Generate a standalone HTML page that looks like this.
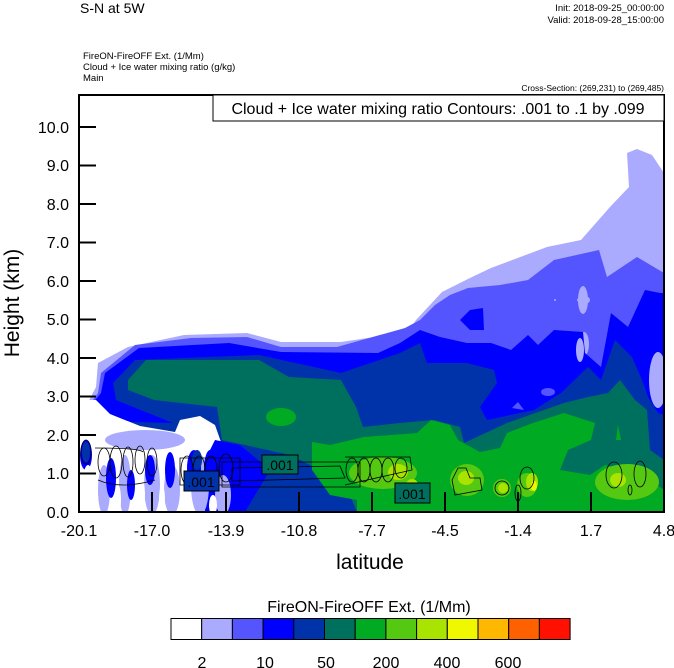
<!DOCTYPE html>
<html><head><meta charset="utf-8"><style>
body{margin:0;background:#fff;}
svg{display:block;font-family:"Liberation Sans",sans-serif;}
</style></head><body>
<svg width="674" height="668" viewBox="0 0 674 668" xmlns="http://www.w3.org/2000/svg">
<rect width="674" height="668" fill="#fff"/>
<text x="80" y="13" font-size="14">S-N at 5W</text>
<text x="664" y="11" font-size="9.5" text-anchor="end">Init: 2018-09-25_00:00:00</text>
<text x="664" y="23" font-size="9.5" text-anchor="end">Valid: 2018-09-28_15:00:00</text>
<text x="83" y="59" font-size="9.5">FireON-FireOFF Ext.   (1/Mm)</text>
<text x="83" y="70" font-size="9.5">Cloud + Ice water mixing ratio   (g/kg)</text>
<text x="83" y="81" font-size="9.5">Main</text>
<text x="664" y="91" font-size="8.5" text-anchor="end">Cross-Section: (269,231) to (269,485)</text>
<defs><clipPath id="c"><rect x="79" y="95" width="585" height="417"/></clipPath></defs>
<g clip-path="url(#c)">
<polygon fill="#aaaaff" points="96,387 98,363 128,347 184,335 247,333 281,342 341,342 408,332 416,320 442,292 472,277 491,268 547,247 581,240 610,207 629,187 627,153 637,149 652,155 664,173 664,512 79,512 79,420"/>
<polygon fill="#5555ff" points="98,393 101,373 135,345 191,338 247,337 281,347 337,347 405,328 420,320 435,305 450,295 468,288 500,285 528,280 554,260 599,250 607,277 637,257 664,273 664,512 79,512 79,420"/>
<g fill="#aaaaff">
<ellipse cx="583" cy="300" rx="5" ry="14"/><ellipse cx="583" cy="300" rx="6" ry="3"/>
<ellipse cx="584" cy="344" rx="5" ry="12"/><ellipse cx="582" cy="300" rx="1" ry="1"/>
<ellipse cx="555" cy="300" rx="1" ry="1"/><ellipse cx="584" cy="300" rx="1" ry="1"/>
<ellipse cx="584" cy="300" rx="1" ry="1"/>
</g>
<ellipse cx="584" cy="300" rx="6" ry="4" fill="#aaaaff"/>
<polygon fill="#0000ff" points="101,393 105,373 139,348 229,343 281,352 378,353 400,343 420,330 440,337 467,343 491,343 511,350 528,335 538,345 554,330 583,332 585,353 601,367 611,313 628,327 645,290 660,293 664,293 664,512 79,512 79,420"/>
<polygon fill="#0000ff" points="460,320 470,310 483,308 484,330 470,330"/>
<ellipse cx="658" cy="380" rx="9" ry="28" fill="#aaaaff"/>
<ellipse cx="580" cy="350" rx="4" ry="12" fill="#aaaaff"/>
<polygon fill="#0033aa" points="116,400 113,383 135,360 259,355 341,373 400,353 420,343 427,363 467,363 494,370 497,383 480,407 487,420 534,410 561,393 588,367 601,380 615,340 632,357 642,380 648,397 658,413 664,415 664,512 79,512 79,425 130,422 173,423"/>
<ellipse cx="548" cy="392" rx="7" ry="4" fill="#5555ff"/>
<polygon fill="#5555ff" points="512,408 518,402 524,410"/>
<polygon fill="#00705e" points="128,390 128,380 146,360 259,360 289,377 341,380 356,407 363,427 400,423 434,420 460,427 464,443 507,423 564,403 588,397 608,393 620,380 635,400 647,410 650,450 664,460 664,512 357,512 350,495 320,470 290,455 245,445 222,440 217,407 154,400"/>
<polygon fill="#00aa22" points="312,442 330,445 364,437 417,433 431,420 450,425 458,440 480,452 500,448 507,433 530,424 564,413 595,423 591,440 568,450 560,470 590,475 605,465 625,470 650,480 664,490 664,512 357,512 357,500 330,495 312,470"/>
<polygon fill="#00aa22" points="616,440 618,425 621,440"/>
<ellipse cx="281" cy="417" rx="15" ry="9" fill="#00aa22"/>
<g fill="#55c811">
<ellipse cx="383" cy="473" rx="34" ry="16"/><ellipse cx="467" cy="480" rx="17" ry="16"/>
<ellipse cx="502" cy="488" rx="9" ry="9"/><ellipse cx="527" cy="485" rx="10" ry="12"/>
<ellipse cx="627" cy="482" rx="32" ry="18"/>
</g>
<g fill="#a8e400">
<ellipse cx="398" cy="472" rx="10" ry="8"/><ellipse cx="412" cy="485" rx="6" ry="6"/>
<ellipse cx="466" cy="478" rx="8" ry="7"/><ellipse cx="532" cy="482" rx="6" ry="9"/>
<ellipse cx="503" cy="488" rx="5" ry="5"/><ellipse cx="618" cy="480" rx="8" ry="7"/>
</g>
<ellipse cx="534" cy="486" rx="3" ry="5" fill="#f0f800"/>
<!-- bottom-left -->
<polygon fill="#fff" points="79,400 96,400 110,414 140,426 175,432 180,420 200,416 215,425 222,445 220,512 79,512"/>
<ellipse cx="145" cy="440" rx="40" ry="10" fill="#aaaaff"/>
<polygon fill="#0000ff" points="215,440 240,445 270,470 245,512 205,512 200,470"/>
<g fill="#aaaaff">
<ellipse cx="104" cy="490" rx="6" ry="25"/><ellipse cx="125" cy="485" rx="6" ry="30"/>
<ellipse cx="152" cy="485" rx="8" ry="30"/><ellipse cx="172" cy="490" rx="8" ry="25"/>
<ellipse cx="200" cy="485" rx="9" ry="30"/><ellipse cx="223" cy="495" rx="8" ry="20"/>
</g>
<g fill="#0000ff">
<ellipse cx="86" cy="455" rx="6" ry="15"/><ellipse cx="111" cy="478" rx="5" ry="20"/>
<ellipse cx="131" cy="485" rx="4" ry="15"/><ellipse cx="150" cy="470" rx="5" ry="15"/>
<ellipse cx="170" cy="470" rx="5" ry="18"/><ellipse cx="194" cy="468" rx="7" ry="18"/>
<ellipse cx="210" cy="470" rx="6" ry="20"/>
</g>
<g fill="#0033aa">
<ellipse cx="86" cy="452" rx="4" ry="10"/><ellipse cx="197" cy="460" rx="5" ry="10"/>
</g>
<g fill="#fff">
<ellipse cx="88" cy="490" rx="6" ry="25"/><ellipse cx="118" cy="500" rx="3" ry="15"/>
<ellipse cx="140" cy="495" rx="5" ry="20"/><ellipse cx="162" cy="500" rx="3" ry="15"/>
<ellipse cx="213" cy="505" rx="4" ry="10"/>
</g>
<!-- contours -->
<g fill="none" stroke="#000" stroke-width="0.8">
<ellipse cx="86" cy="452" rx="5" ry="12"/>
<ellipse cx="104" cy="462" rx="6" ry="14"/><ellipse cx="116" cy="462" rx="6" ry="16"/>
<ellipse cx="128" cy="462" rx="5" ry="15"/><ellipse cx="140" cy="460" rx="5" ry="14"/>
<ellipse cx="152" cy="462" rx="5" ry="14"/>
<path d="M95,448 Q140,448 143,452 M98,480 Q120,490 155,480"/>
<ellipse cx="187" cy="470" rx="6" ry="14"/><ellipse cx="199" cy="470" rx="6" ry="14"/>
<ellipse cx="211" cy="470" rx="6" ry="14"/><ellipse cx="226" cy="468" rx="7" ry="14"/>
<path d="M180,458 L240,458 L240,485 L180,485 Z"/>
<path d="M222,462 L360,462 L360,487 L222,487 Z"/>
<path d="M232,468 L340,466 L345,478 L232,481 Z"/>
<ellipse cx="352" cy="470" rx="6" ry="12"/><ellipse cx="364" cy="470" rx="6" ry="12"/>
<ellipse cx="376" cy="470" rx="6" ry="12"/><ellipse cx="388" cy="470" rx="6" ry="12"/>
<ellipse cx="401" cy="468" rx="6" ry="10"/>
<path d="M345,457 L410,457 L412,470 L345,485"/>
<path d="M452,480 L458,468 L466,468 L470,478 L480,478 L482,490 L455,495 Z"/>
<ellipse cx="502" cy="488" rx="7" ry="7"/><ellipse cx="518" cy="493" rx="3" ry="8"/>
<ellipse cx="527" cy="478" rx="7" ry="11"/>
<ellipse cx="614" cy="475" rx="8" ry="13"/><ellipse cx="640" cy="474" rx="6" ry="13"/>
<ellipse cx="630" cy="490" rx="2" ry="5"/>
</g>
<g font-size="14" text-anchor="middle">
<rect x="262" y="455" width="36" height="19" fill="#00705e" stroke="#000"/><text x="280" y="470">.001</text>
<rect x="184" y="471" width="35" height="20" fill="#0033aa" stroke="#000"/><text x="201" y="487">.001</text>
<rect x="395" y="483" width="35" height="20" fill="#00705e" stroke="#000"/><text x="412" y="499">.001</text>
</g>
</g>
<rect x="79" y="95" width="585" height="417" fill="none" stroke="#000" stroke-width="2"/>
<rect x="213" y="95" width="451" height="26" fill="#fff" stroke="#000" stroke-width="1"/>
<text x="438" y="114" font-size="16" text-anchor="middle">Cloud + Ice water mixing ratio Contours: .001 to .1 by .099</text>
<g stroke="#000" stroke-width="2">
<line x1="152" y1="512" x2="152" y2="492"/><line x1="226" y1="512" x2="226" y2="492"/>
<line x1="299" y1="512" x2="299" y2="492"/><line x1="372" y1="512" x2="372" y2="492"/>
<line x1="445" y1="512" x2="445" y2="492"/><line x1="518" y1="512" x2="518" y2="492"/>
<line x1="591" y1="512" x2="591" y2="492"/>
<line x1="79" y1="473.5" x2="96" y2="473.5"/><line x1="79" y1="435" x2="96" y2="435"/>
<line x1="79" y1="396.5" x2="96" y2="396.5"/><line x1="79" y1="358" x2="96" y2="358"/>
<line x1="79" y1="319.5" x2="96" y2="319.5"/><line x1="79" y1="281" x2="96" y2="281"/>
<line x1="79" y1="242.5" x2="96" y2="242.5"/><line x1="79" y1="204" x2="96" y2="204"/>
<line x1="79" y1="165.5" x2="96" y2="165.5"/><line x1="79" y1="127" x2="96" y2="127"/>
</g>
<g font-size="16" text-anchor="end">
<text x="69" y="518">0.0</text><text x="69" y="479">1.0</text><text x="69" y="441">2.0</text>
<text x="69" y="402">3.0</text><text x="69" y="364">4.0</text><text x="69" y="325">5.0</text>
<text x="69" y="287">6.0</text><text x="69" y="248">7.0</text><text x="69" y="210">8.0</text>
<text x="69" y="171">9.0</text><text x="69" y="133">10.0</text>
</g>
<g font-size="16" text-anchor="middle">
<text x="79" y="536">-20.1</text><text x="152" y="536">-17.0</text><text x="226" y="536">-13.9</text>
<text x="299" y="536">-10.8</text><text x="372" y="536">-7.7</text><text x="445" y="536">-4.5</text>
<text x="518" y="536">-1.4</text><text x="591" y="536">1.7</text><text x="664" y="536">4.8</text>
</g>
<text x="370" y="569" font-size="21" text-anchor="middle">latitude</text>
<text transform="translate(19,303) rotate(-90)" font-size="21" text-anchor="middle">Height (km)</text>
<text x="369" y="612" font-size="16" text-anchor="middle">FireON-FireOFF Ext.  (1/Mm)</text>
<g stroke="#000" stroke-width="1">
<rect x="171" y="618.5" width="30.7" height="21" fill="#fff"/>
<rect x="201.7" y="618.5" width="30.7" height="21" fill="#aaaaff"/>
<rect x="232.4" y="618.5" width="30.7" height="21" fill="#5555ff"/>
<rect x="263.1" y="618.5" width="30.7" height="21" fill="#0000ff"/>
<rect x="293.8" y="618.5" width="30.7" height="21" fill="#0033aa"/>
<rect x="324.5" y="618.5" width="30.7" height="21" fill="#00705e"/>
<rect x="355.2" y="618.5" width="30.7" height="21" fill="#00aa22"/>
<rect x="385.9" y="618.5" width="30.7" height="21" fill="#55c811"/>
<rect x="416.6" y="618.5" width="30.7" height="21" fill="#a8e400"/>
<rect x="447.3" y="618.5" width="30.7" height="21" fill="#f0f800"/>
<rect x="478" y="618.5" width="30.7" height="21" fill="#ffb800"/>
<rect x="508.7" y="618.5" width="30.7" height="21" fill="#ff6000"/>
<rect x="539.4" y="618.5" width="30.7" height="21" fill="#ff1000"/>
</g>
<g font-size="16" text-anchor="middle">
<text x="202" y="668">2</text><text x="265" y="668">10</text><text x="326" y="668">50</text>
<text x="386" y="668">200</text><text x="447" y="668">400</text><text x="508" y="668">600</text>
</g>
</svg>
</body></html>
